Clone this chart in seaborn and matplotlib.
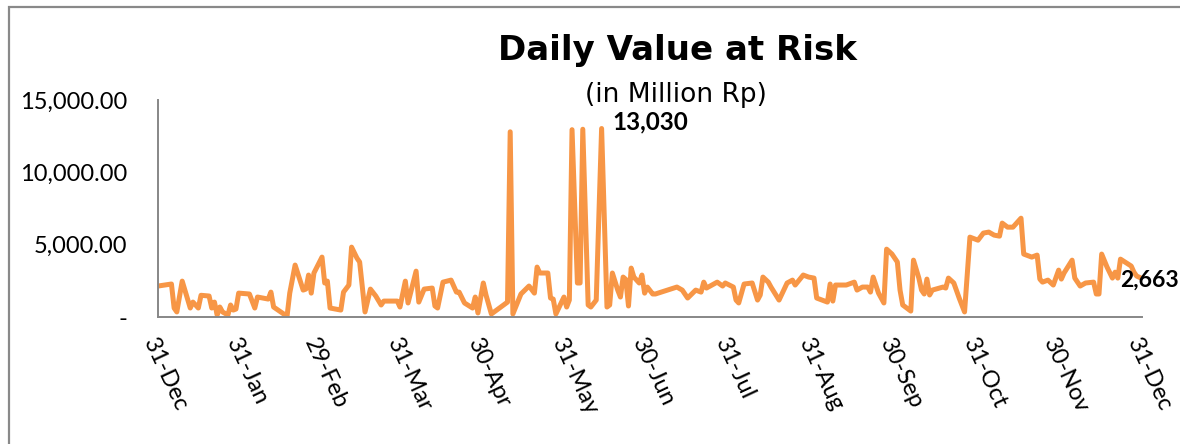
import pandas as pd
import matplotlib.pyplot as plt
import seaborn as sns

# Daily VaR (million Rp)
dates = [
    '2015-12-31', '2016-01-05', '2016-01-06', '2016-01-07', '2016-01-09', '2016-01-12', '2016-01-13',
    '2016-01-15', '2016-01-16', '2016-01-19', '2016-01-20', '2016-01-21', '2016-01-22', '2016-01-23',
    '2016-01-24', '2016-01-26', '2016-01-27', '2016-01-28', '2016-01-29', '2016-01-30', '2016-02-03',
    '2016-02-05', '2016-02-06', '2016-02-10', '2016-02-11', '2016-02-12', '2016-02-17', '2016-02-18',
    '2016-02-20', '2016-02-23', '2016-02-24', '2016-02-25', '2016-02-26', '2016-02-27', '2016-03-01',
    '2016-03-02', '2016-03-03', '2016-03-04', '2016-03-08', '2016-03-09', '2016-03-11', '2016-03-12',
    '2016-03-14', '2016-03-15', '2016-03-17', '2016-03-19', '2016-03-21', '2016-03-23', '2016-03-24',
    '2016-03-29', '2016-03-30', '2016-04-01', '2016-04-02', '2016-04-05', '2016-04-06', '2016-04-08',
    '2016-04-11', '2016-04-12', '2016-04-13', '2016-04-15', '2016-04-18', '2016-04-20', '2016-04-21',
    '2016-04-23', '2016-04-26', '2016-04-27', '2016-04-28', '2016-04-30', '2016-05-01', '2016-05-03',
    '2016-05-09', '2016-05-10', '2016-05-11', '2016-05-14', '2016-05-17', '2016-05-19', '2016-05-20',
    '2016-05-21', '2016-05-24', '2016-05-25', '2016-05-26', '2016-05-27', '2016-05-30', '2016-05-31',
    '2016-06-01', '2016-06-02', '2016-06-04', '2016-06-05', '2016-06-06', '2016-06-08', '2016-06-09',
    '2016-06-11', '2016-06-13', '2016-06-15', '2016-06-16', '2016-06-17', '2016-06-19', '2016-06-20',
    '2016-06-21', '2016-06-22', '2016-06-23', '2016-06-24', '2016-06-25', '2016-06-27', '2016-06-28',
    '2016-06-29', '2016-06-30', '2016-07-02', '2016-07-03', '2016-07-11', '2016-07-13', '2016-07-15',
    '2016-07-18', '2016-07-20', '2016-07-21', '2016-07-22', '2016-07-26', '2016-07-28', '2016-07-29',
    '2016-08-01', '2016-08-02', '2016-08-03', '2016-08-05', '2016-08-08', '2016-08-10', '2016-08-11',
    '2016-08-12', '2016-08-14', '2016-08-15', '2016-08-18', '2016-08-21', '2016-08-23', '2016-08-24',
    '2016-08-27', '2016-08-29', '2016-08-31', '2016-09-01', '2016-09-03', '2016-09-05', '2016-09-06',
    '2016-09-07', '2016-09-08', '2016-09-12', '2016-09-15', '2016-09-16', '2016-09-18', '2016-09-20',
    '2016-09-21', '2016-09-22', '2016-09-24', '2016-09-26', '2016-09-27', '2016-09-29', '2016-10-01',
    '2016-10-02', '2016-10-03', '2016-10-06', '2016-10-07', '2016-10-09', '2016-10-10', '2016-10-11',
    '2016-10-12', '2016-10-13', '2016-10-14', '2016-10-18', '2016-10-19', '2016-10-20', '2016-10-22',
    '2016-10-24', '2016-10-26', '2016-10-28', '2016-10-29', '2016-10-31', '2016-11-02', '2016-11-04',
    '2016-11-06', '2016-11-08', '2016-11-09', '2016-11-11', '2016-11-13', '2016-11-16', '2016-11-17',
    '2016-11-20', '2016-11-22', '2016-11-23', '2016-11-24', '2016-11-26', '2016-11-28', '2016-11-30',
    '2016-12-01', '2016-12-02', '2016-12-05', '2016-12-06', '2016-12-08', '2016-12-10', '2016-12-13',
    '2016-12-14', '2016-12-15', '2016-12-16', '2016-12-18', '2016-12-20', '2016-12-21', '2016-12-22',
    '2016-12-23', '2016-12-27', '2016-12-28', '2016-12-29', '2016-12-31',
]
var_values = [
    2140, 2280, 620, 350, 2480, 620, 1030,
    620, 1500, 1450, 620, 1030, 140, 690,
    350, 140, 830, 480, 550, 1650, 1590,
    620, 1380, 1240, 1720, 690, 50, 1650,
    3590, 1860, 1930, 2900, 1650, 3040, 4140,
    2350, 2480, 620, 480, 1720, 2210, 4830,
    4070, 3800, 350, 1930, 1450, 830, 1100,
    1100, 690, 2480, 970, 3170, 1030, 1930,
    2000, 760, 620, 2410, 2550, 1720, 1720,
    970, 620, 1380, 280, 2350, 1520, 210,
    1030, 12800, 210, 1590, 2140, 1650, 3450,
    3040, 3040, 1310, 1240, 210, 1380, 690,
    1170, 12950, 2350, 2350, 12980, 830, 690,
    1170, 13030, 690, 830, 3040, 1860, 1380,
    2760, 2600, 760, 3380, 2760, 2350, 2900,
    1650, 2070, 1590, 1590, 2070, 1860, 1310,
    1860, 1720, 2410, 2000, 2410, 2140, 2350,
    2070, 1170, 970, 2280, 2350, 1170, 1520,
    2760, 2410, 2070, 1170, 2350, 2550, 2210,
    2900, 2760, 2690, 1310, 1170, 1030, 2280,
    1100, 2210, 2210, 2410, 1860, 2070, 2070,
    1720, 2760, 1650, 970, 4690, 4350, 3800,
    1860, 830, 410, 3930, 2690, 1860, 1590,
    2620, 1520, 1860, 2070, 2000, 2690, 2350,
    1310, 350, 5520, 5450, 5310, 5800, 5870,
    5660, 5590, 6490, 6210, 6210, 6830, 4350,
    4140, 4280, 2620, 2410, 2550, 2210, 3240,
    2620, 3040, 3930, 2690, 2140, 2350, 2410,
    1590, 1590, 4350, 3450, 2690, 3100, 2690,
    4000, 3520, 3100, 2830, 2663,
]
tick_dates = ['2015-12-31', '2016-01-31', '2016-02-29', '2016-03-31', '2016-04-30', '2016-05-31',
              '2016-06-30', '2016-07-31', '2016-08-31', '2016-09-30', '2016-10-31', '2016-11-30',
              '2016-12-31']
y_ticks = [0, 5000, 10000, 15000]
y_labels = ['-', '5,000.00', '10,000.00', '15,000.00']

df = pd.DataFrame({'Date': pd.to_datetime(dates), 'VaR': var_values})

sns.set_style('white')
plt.rcParams['font.family'] = ['Lato', 'DejaVu Sans']

fig = plt.figure(figsize=(11.8, 4.44), dpi=100)
ax = fig.add_axes([158 / 1180, 1 - 317 / 444, 984 / 1180, 217 / 444])

sns.lineplot(data=df, x='Date', y='VaR', ax=ax, color='#F79646', linewidth=3.6,
             solid_joinstyle='round', solid_capstyle='round')

ax.set_xlim(pd.Timestamp('2015-12-31'), pd.Timestamp('2016-12-31'))
ax.set_ylim(0, 15000)
ax.set_xlabel('')
ax.set_ylabel('')

ticks = pd.to_datetime(tick_dates)
ax.set_xticks(ticks)
ax.set_xticklabels([t.strftime('%d-%b') for t in ticks], rotation=-65,
                   ha='left', va='top', rotation_mode='anchor', fontsize=17, color='black')
ax.set_yticks(y_ticks)
ax.set_yticklabels(y_labels, fontsize=17, color='black')
ax.tick_params(axis='both', length=0)
ax.tick_params(axis='y', pad=22)
ax.tick_params(axis='x', pad=13)

for side in ['top', 'right']:
    ax.spines[side].set_visible(False)
for side in ['left', 'bottom']:
    ax.spines[side].set_color('#878787')
    ax.spines[side].set_linewidth(1.4)

# labels for the peak and the last value
peak = df.loc[df['VaR'].idxmax()]
last = df.iloc[-1]
ax.annotate(f"{peak['VaR']:,.0f}", xy=(peak['Date'], peak['VaR']), xytext=(11, -1),
            textcoords='offset pixels', ha='left', va='baseline', fontsize=17.5,
            fontweight='bold', color='black', annotation_clip=False)
ax.annotate(f"{last['VaR']:,.0f}", xy=(last['Date'], last['VaR']), xytext=(-22, -8),
            textcoords='offset pixels', ha='left', va='baseline', fontsize=16.5,
            fontweight='bold', color='black', annotation_clip=False)

fig.text(678 / 1180, 1 - 60 / 444, 'Daily Value at Risk', ha='center', va='baseline',
         fontsize=24.5, fontweight='bold', family='DejaVu Sans', color='black')
fig.text(676 / 1180, 1 - 102 / 444, '(in Million Rp)', ha='center', va='baseline',
         fontsize=19, family='DejaVu Sans', color='black')

# chart area border
fig.add_artist(plt.Rectangle((9 / 1180, -0.1), 1.2, 1.1 - 7 / 444, transform=fig.transFigure,
                             fill=False, edgecolor='#898989', linewidth=1.6))

plt.savefig('out.png', dpi=100)
plt.close()
